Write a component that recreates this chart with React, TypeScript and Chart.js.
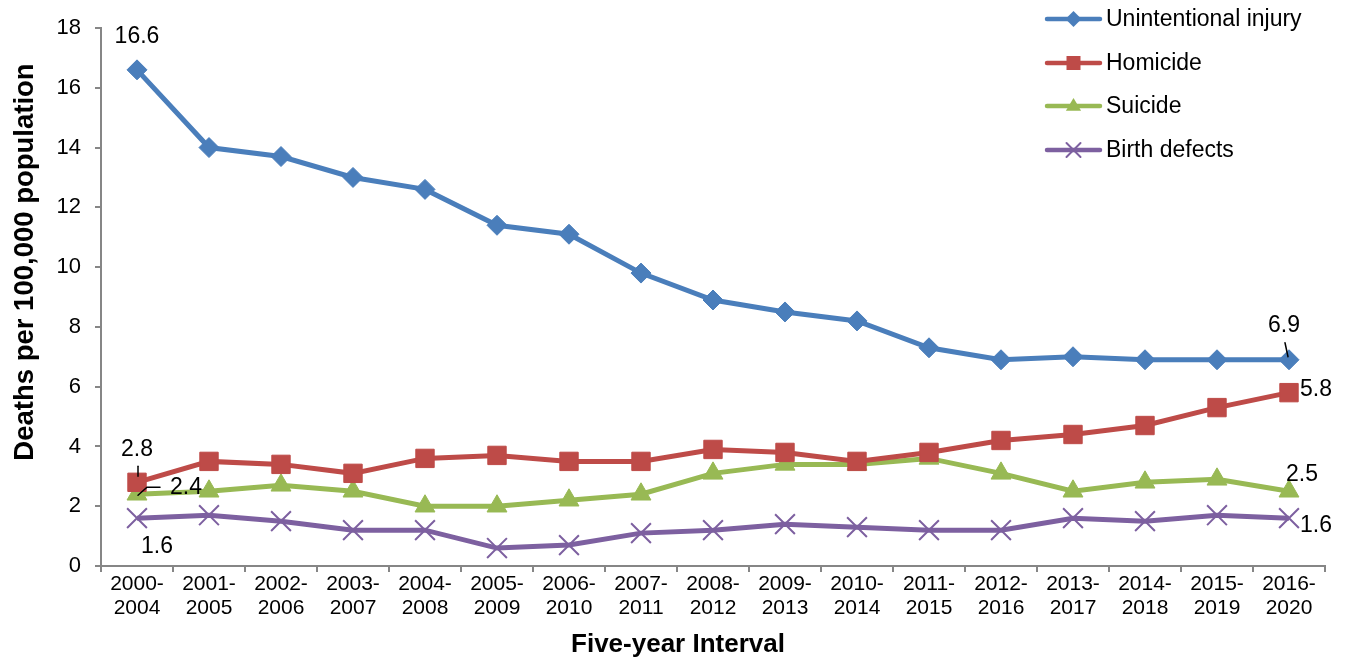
import React, { useEffect, useRef } from 'react';
import { Chart, registerables } from 'chart.js';

Chart.register(...registerables);

const intervals = [
  '2000-2004', '2001-2005', '2002-2006', '2003-2007', '2004-2008', '2005-2009',
  '2006-2010', '2007-2011', '2008-2012', '2009-2013', '2010-2014', '2011-2015',
  '2012-2016', '2013-2017', '2014-2018', '2015-2019', '2016-2020',
];
const unintentionalInjury = [16.6, 14.0, 13.7, 13.0, 12.6, 11.4, 11.1, 9.8, 8.9, 8.5, 8.2, 7.3, 6.9, 7.0, 6.9, 6.9, 6.9];
const homicide = [2.8, 3.5, 3.4, 3.1, 3.6, 3.7, 3.5, 3.5, 3.9, 3.8, 3.5, 3.8, 4.2, 4.4, 4.7, 5.3, 5.8];
const suicide = [2.4, 2.5, 2.7, 2.5, 2.0, 2.0, 2.2, 2.4, 3.1, 3.4, 3.4, 3.6, 3.1, 2.5, 2.8, 2.9, 2.5];
const birthDefects = [1.6, 1.7, 1.5, 1.2, 1.2, 0.6, 0.7, 1.1, 1.2, 1.4, 1.3, 1.2, 1.2, 1.6, 1.5, 1.7, 1.6];
const seriesNames = ['Unintentional injury', 'Homicide', 'Suicide', 'Birth defects'];
const yMin = 0;
const yMax = 18;
const yStep = 2;
const yTitle = 'Deaths per 100,000 population';
const xTitle = 'Five-year Interval';

// labels: [series index, point index]
const labelPoints: [number, number][] = [
  [0, 0], [1, 0], [2, 0], [3, 0],
  [0, 16], [1, 16], [2, 16], [3, 16],
];

const FONT = '"Liberation Sans", Arial, Helvetica, sans-serif';
const colors = ['#4A7EBB', '#BE4B48', '#98B954', '#7D60A0'];
const pointStyles = ['rectRot', 'rect', 'triangle', 'crossRot'];
const pointRadii = [10, 13, 11.5, 14];

function drawMarker(ctx: CanvasRenderingContext2D, style: string, x: number, y: number, s: number, color: string) {
  ctx.save();
  ctx.fillStyle = color;
  ctx.strokeStyle = color;
  ctx.beginPath();
  if (style === 'rectRot') {
    ctx.moveTo(x, y - s);
    ctx.lineTo(x + s, y);
    ctx.lineTo(x, y + s);
    ctx.lineTo(x - s, y);
    ctx.closePath();
    ctx.fill();
  } else if (style === 'rect') {
    ctx.rect(x - s, y - s, 2 * s, 2 * s);
    ctx.fill();
  } else if (style === 'triangle') {
    ctx.moveTo(x, y - s);
    ctx.lineTo(x + s * 0.95, y + s * 0.6);
    ctx.lineTo(x - s * 0.95, y + s * 0.6);
    ctx.closePath();
    ctx.fill();
  } else {
    ctx.lineWidth = 2;
    ctx.moveTo(x - s, y - s);
    ctx.lineTo(x + s, y + s);
    ctx.moveTo(x + s, y - s);
    ctx.lineTo(x - s, y + s);
    ctx.stroke();
  }
  ctx.restore();
}

const overlayPlugin = {
  id: 'overlay',
  afterDraw(chart: any) {
    const ctx: CanvasRenderingContext2D = chart.ctx;
    ctx.save();
    // axis titles
    ctx.fillStyle = '#000';
    ctx.font = `bold 26px ${FONT}`;
    ctx.textAlign = 'center';
    ctx.textBaseline = 'middle';
    ctx.fillText(xTitle, 678, 645);
    ctx.font = `bold 27.5px ${FONT}`;
    ctx.save();
    ctx.translate(25, 262);
    ctx.rotate(-Math.PI / 2);
    ctx.fillText(yTitle, 0, 0);
    ctx.restore();

    // legend
    const legX0 = 1047;
    const legX1 = 1100;
    const legTextX = 1106;
    const legYs = [19, 63, 106, 150];
    ctx.font = `23px ${FONT}`;
    ctx.textAlign = 'left';
    seriesNames.forEach((name, i) => {
      const y = legYs[i];
      ctx.strokeStyle = colors[i];
      ctx.lineWidth = 4.5;
      ctx.lineCap = 'round';
      ctx.beginPath();
      ctx.moveTo(legX0, y);
      ctx.lineTo(legX1, y);
      ctx.stroke();
      const sz = [8, 7, 8, 7][i];
      drawMarker(ctx, pointStyles[i], (legX0 + legX1) / 2, y, sz, colors[i]);
      ctx.fillStyle = '#000';
      ctx.fillText(name, legTextX, y + 1);
    });

    // data labels
    ctx.font = `23px ${FONT}`;
    ctx.fillStyle = '#000';
    ctx.strokeStyle = '#000';
    ctx.lineWidth = 1.5;
    const values = [unintentionalInjury, homicide, suicide, birthDefects];
    labelPoints.forEach(([s, idx]) => {
      const pt = chart.getDatasetMeta(s).data[idx];
      const px = pt.x;
      const py = pt.y;
      const text = values[s][idx].toFixed(1);
      let tx = px, ty = py, align: CanvasTextAlign = 'center';
      const first = idx === 0;
      if (first) {
        if (s === 0) { ty = py - 33; }
        else if (s === 1) {
          ty = py - 33;
          ctx.beginPath(); ctx.moveTo(px + 1, py - 16); ctx.lineTo(px + 1, py - 6); ctx.stroke();
        } else if (s === 2) {
          tx = px + 33; ty = py - 7; align = 'left';
          ctx.beginPath(); ctx.moveTo(px + 1, py + 1); ctx.lineTo(px + 10, py - 7); ctx.lineTo(px + 23, py - 7); ctx.stroke();
        } else { tx = px + 20; ty = py + 28; }
      } else {
        if (s === 0) {
          tx = px - 5; ty = py - 34;
          ctx.beginPath(); ctx.moveTo(px - 4, py - 17); ctx.lineTo(px - 1, py - 3); ctx.stroke();
        } else if (s === 1) { tx = px + 11; ty = py - 3; align = 'left'; }
        else if (s === 2) { tx = px + 13; ty = py - 17; }
        else { tx = px + 11; ty = py + 7; align = 'left'; }
      }
      ctx.textAlign = align;
      ctx.textBaseline = 'middle';
      ctx.fillText(text, tx, ty);
    });
    ctx.restore();
  },
};

export default function App() {
  const canvasRef = useRef<HTMLCanvasElement | null>(null);

  useEffect(() => {
    const canvas = canvasRef.current;
    if (!canvas) return;
    const datasets = [unintentionalInjury, homicide, suicide, birthDefects].map((vals, i) => ({
      label: seriesNames[i],
      data: vals,
      order: i,
      borderColor: colors[i],
      backgroundColor: colors[i],
      borderWidth: 5,
      pointStyle: pointStyles[i] as any,
      pointRadius: pointRadii[i],
      pointHoverRadius: pointRadii[i],
      pointBackgroundColor: colors[i],
      pointBorderColor: colors[i],
      pointBorderWidth: i === 3 ? 2 : 1,
      tension: 0,
      fill: false,
    }));
    const chart = new Chart(canvas, {
      type: 'line',
      data: {
        labels: intervals.map((s) => {
          const [a, b] = s.split('-');
          return [a + '-', b];
        }),
        datasets: datasets as any,
      },
      options: {
        responsive: false,
        animation: false,
        layout: { padding: { top: 28, right: 24, left: 0, bottom: 0 } },
        plugins: {
          legend: { display: false },
          tooltip: { enabled: false },
        },
        scales: {
          x: {
            type: 'category',
            offset: true,
            grid: {
              display: true,
              drawOnChartArea: false,
              drawTicks: true,
              tickLength: 6,
              color: '#868686',
              lineWidth: 2,
              offset: true,
            },
            border: { display: true, color: '#868686', width: 2 },
            ticks: {
              color: '#000',
              font: { family: FONT, size: 21, lineHeight: 1.15 },
              padding: 0,
              maxRotation: 0,
              autoSkip: false,
            },
            afterFit: (scale: any) => { scale.height = 97; },
          },
          y: {
            min: yMin,
            max: yMax,
            ticks: {
              stepSize: yStep,
              color: '#000',
              font: { family: FONT, size: 22 },
              padding: 14,
            },
            grid: {
              display: true,
              drawOnChartArea: false,
              drawTicks: true,
              tickLength: 6,
              color: '#868686',
              lineWidth: 2,
            },
            border: { display: true, color: '#868686', width: 2 },
            afterFit: (scale: any) => { scale.width = 101; },
          },
        },
      },
      plugins: [overlayPlugin],
    });
    return () => chart.destroy();
  }, []);

  return (
    <div style={{ position: 'absolute', left: 0, top: 0, width: 1349, height: 663, background: '#fff' }}>
      <canvas ref={canvasRef} width={1349} height={663} style={{ display: 'block' }} />
    </div>
  );
}
